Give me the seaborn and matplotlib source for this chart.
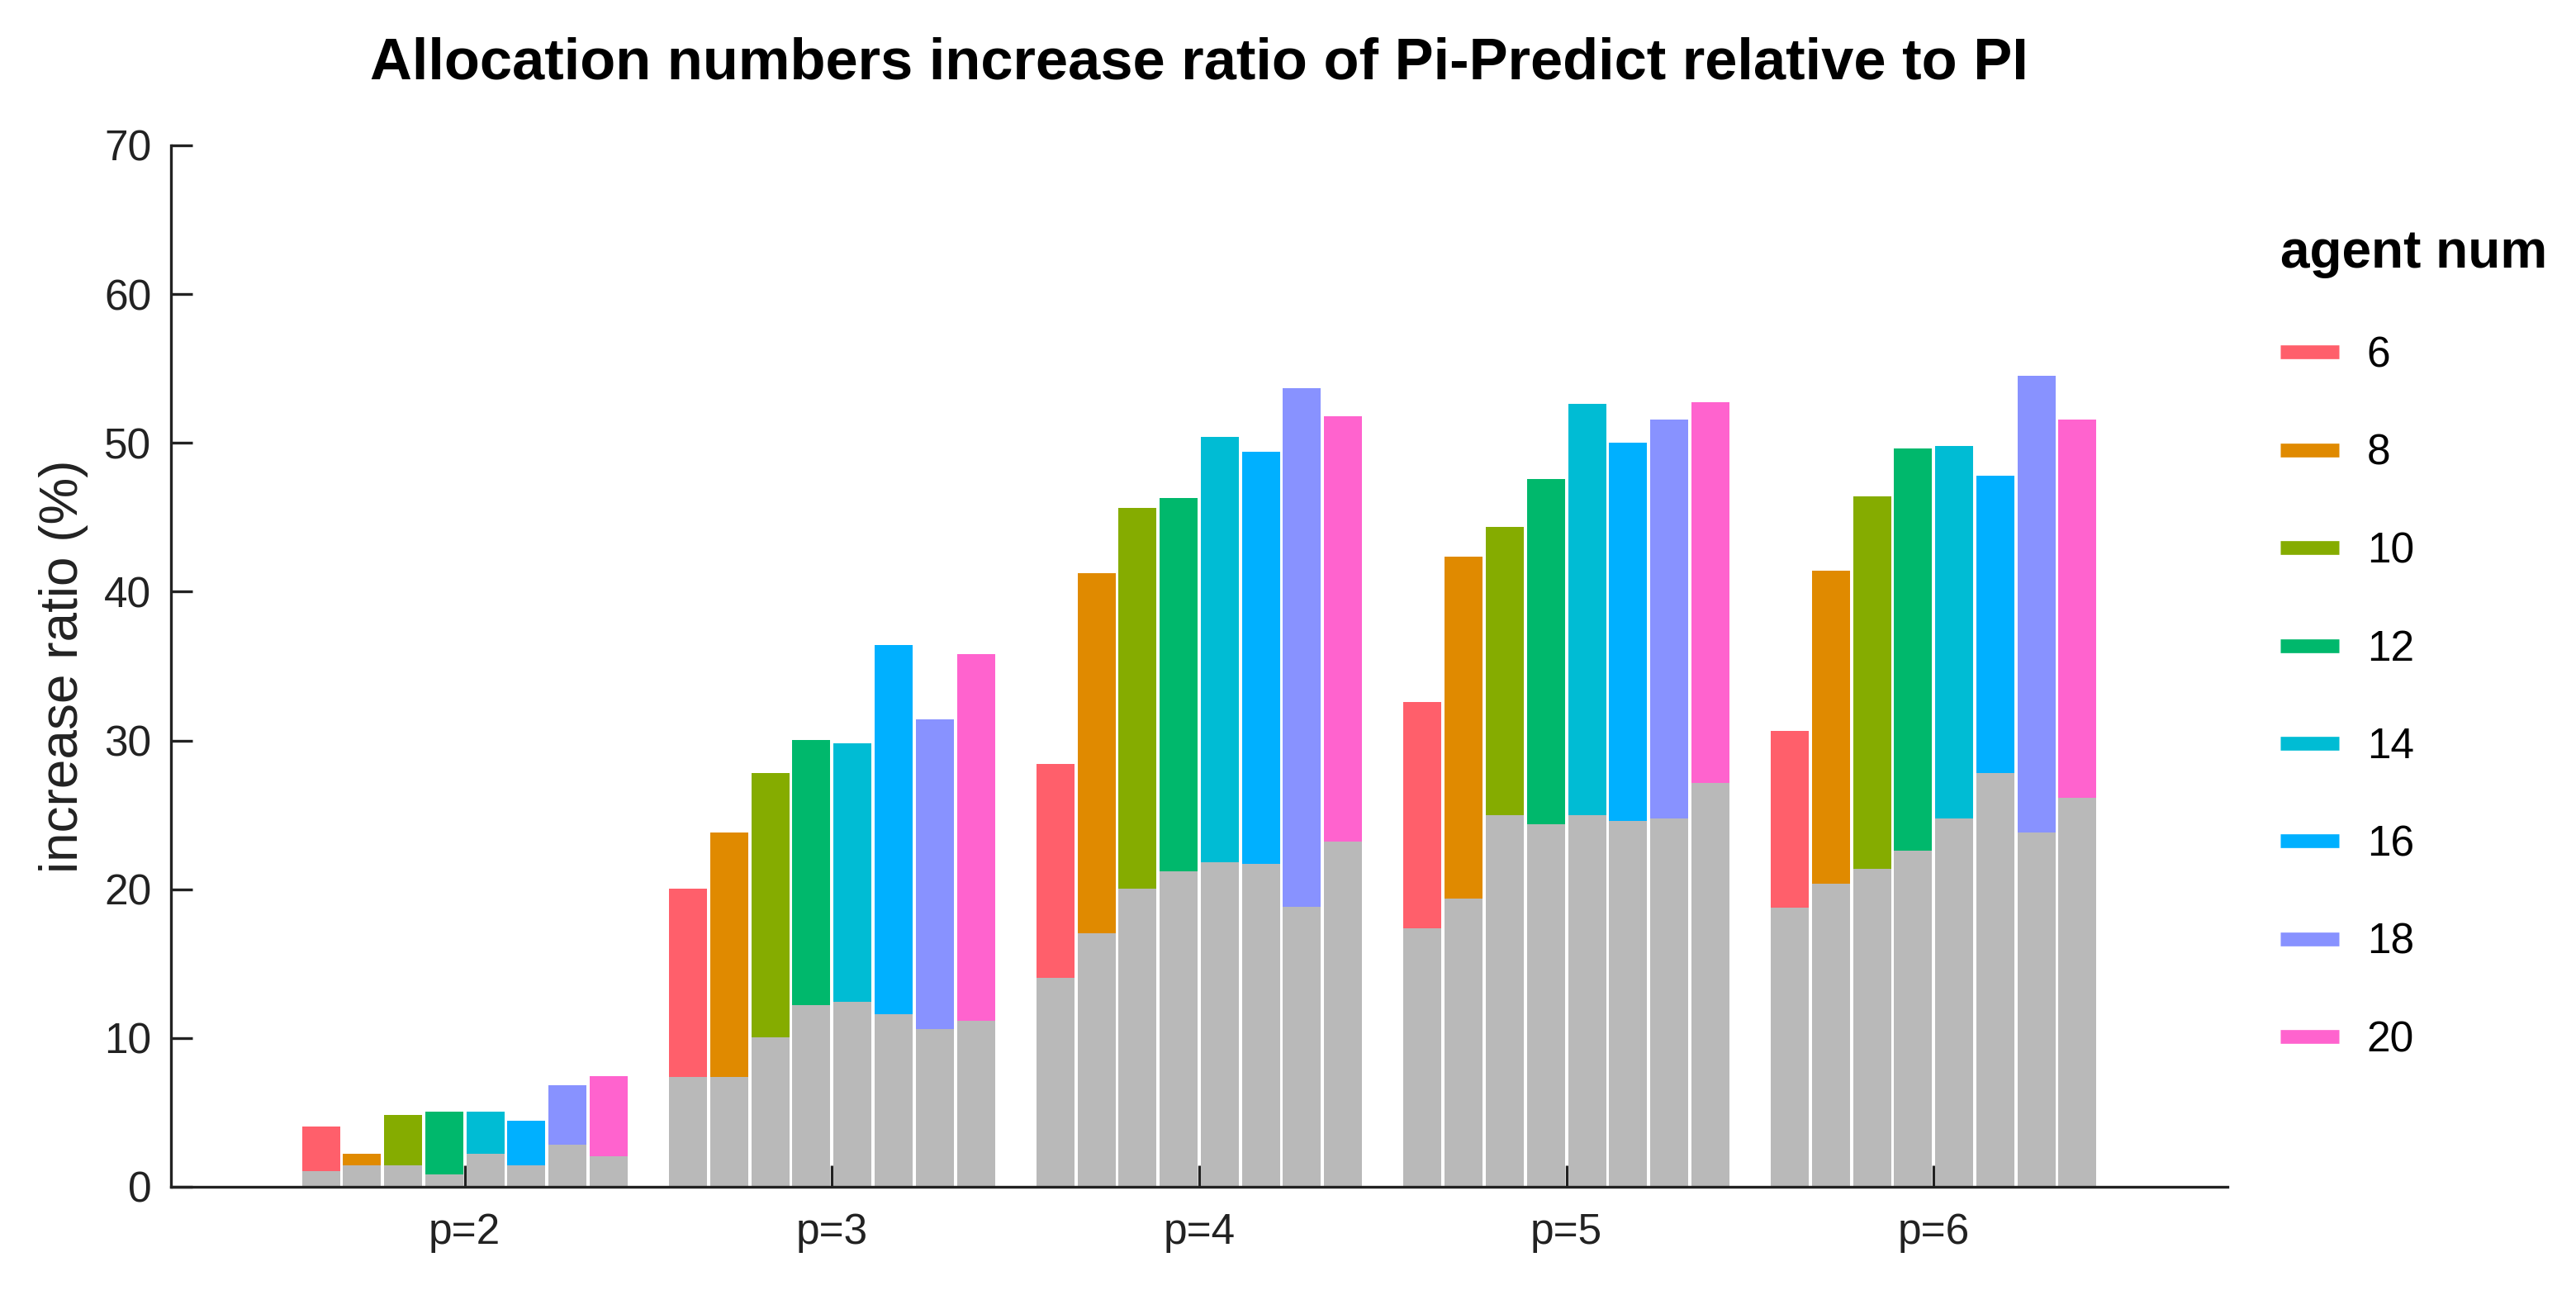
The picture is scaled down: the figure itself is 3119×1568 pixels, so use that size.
import matplotlib
matplotlib.use("Agg")
import matplotlib.pyplot as plt
from matplotlib.lines import Line2D
import numpy as np
import pandas as pd
import seaborn as sns

# values
groups = ["p=2", "p=3", "p=4", "p=5", "p=6"]
agents = ["6", "8", "10", "12", "14", "16", "18", "20"]

# Pi-Predict increase ratio (%), one row per group, one column per agent num
predict_p2 = [4.04, 2.20, 4.81, 5.04, 5.04, 4.43, 6.81, 7.43]
predict_p3 = [20.04, 23.81, 27.79, 30.03, 29.81, 36.41, 31.40, 35.79]
predict_p4 = [28.42, 41.25, 45.64, 46.28, 50.43, 49.43, 53.70, 51.81]
predict_p5 = [32.60, 42.38, 44.37, 47.59, 52.62, 50.00, 51.59, 52.76]
predict_p6 = [30.62, 41.39, 46.39, 49.61, 49.79, 47.77, 54.50, 51.59]

# PI increase ratio (%) - grey bars in front
pi_p2 = [1.06, 1.43, 1.43, 0.81, 2.20, 1.43, 2.81, 2.04]
pi_p3 = [7.41, 7.41, 10.02, 12.20, 12.42, 11.58, 10.58, 11.18]
pi_p4 = [14.03, 17.04, 20.02, 21.19, 21.83, 21.69, 18.84, 23.21]
pi_p5 = [17.36, 19.38, 24.98, 24.38, 24.98, 24.59, 24.77, 27.14]
pi_p6 = [18.78, 20.38, 21.37, 22.61, 24.77, 27.82, 23.81, 26.15]

colors = ["#FF5F6B", "#E08A00", "#85AC00", "#00B86C", "#00BCD4",
          "#00B0FF", "#8892FF", "#FF63CE"]
grey = "#B9B9B9"

predict = [predict_p2, predict_p3, predict_p4, predict_p5, predict_p6]
pi = [pi_p2, pi_p3, pi_p4, pi_p5, pi_p6]

rows = []
for g, pv, iv in zip(groups, predict, pi):
    for a, v1, v2 in zip(agents, pv, iv):
        rows.append({"p": g, "agent": a, "predict": v1, "pi": v2})
df = pd.DataFrame(rows)

sns.set_theme(style="ticks")
plt.rcParams["font.family"] = ["Liberation Sans", "DejaVu Sans"]

fig = plt.figure(figsize=(15.595, 7.84), dpi=200)
ax = fig.add_axes([0.06637, 0.08355, 0.79833, 0.80421])

bar_kw = dict(x="p", hue="agent", order=groups, hue_order=agents,
              width=0.8955, gap=0.076, saturation=1, errorbar=None,
              linewidth=0, edgecolor="none", legend=False, ax=ax)
sns.barplot(data=df, y="predict", palette=colors, **bar_kw)
sns.barplot(data=df, y="pi", palette=[grey] * len(agents), **bar_kw)

ax.set_xlim(-0.8, 4.8)
ax.set_ylim(0, 70)
ax.set_yticks(np.arange(0, 71, 10))
ax.set_axisbelow(True)
sns.despine(ax=ax)
for side in ["left", "bottom"]:
    ax.spines[side].set_linewidth(1.2)
    ax.spines[side].set_color("#222222")
ax.tick_params(axis="both", direction="in", length=9.4, width=1.2,
               color="#222222", labelcolor="#222222", labelsize=18.5)
ax.tick_params(axis="x", pad=11)
ax.tick_params(axis="y", pad=8.5)

ax.set_xlabel("")
ax.set_ylabel("increase ratio (%)", fontsize=23, color="#222222", labelpad=7)
ax.set_title("Allocation numbers increase ratio of Pi-Predict relative to PI",
             fontsize=25.4, fontweight="bold", color="black", pad=29)

handles = [Line2D([0], [0], color=c, lw=6, solid_capstyle="butt") for c in colors]
leg = ax.legend(handles, agents, title="agent num", loc="upper left",
                bbox_to_anchor=(2761 / 3119, 1291 / 1568),
                bbox_transform=fig.transFigure, frameon=False,
                fontsize=18.5, title_fontsize=23, borderpad=0, borderaxespad=0,
                handlelength=1.38, handletextpad=0.66, labelspacing=1.35,
                alignment="left", labelcolor="black")
leg.get_title().set_fontweight("bold")
leg.get_title().set_color("black")

fig.savefig("out.png", dpi=200)
